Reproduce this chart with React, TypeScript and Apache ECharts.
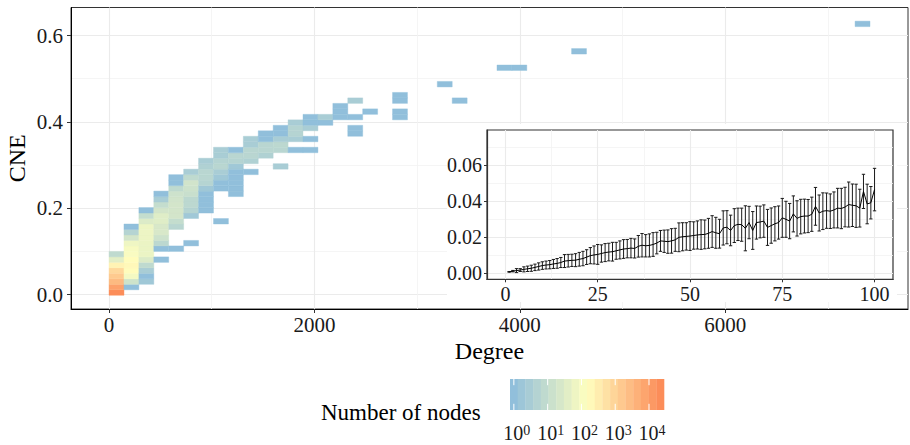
import React, { useEffect, useRef } from 'react';
import * as echarts from 'echarts';

// ---------- main heatmap (binned Degree vs CNE) ----------
const BIN_WIDTH = 145.3; // degree units per bin
const BIN_HEIGHT = 0.0127; // CNE units per bin
const BIN_Y0 = -0.0016;

const binCol = [
  0, 0, 0, 0, 0, 0, 0, 0,
  1, 1, 1, 1, 1, 1, 1, 1, 1, 1, 1, 1,
  2, 2, 2, 2, 2, 2, 2, 2, 2, 2, 2, 2, 2, 2,
  3, 3, 3, 3, 3, 3, 3, 3, 3, 3, 3, 3,
  4, 4, 4, 4, 4, 4, 4, 4, 4, 4, 4,
  5, 5, 5, 5, 5, 5, 5, 5, 5, 5,
  6, 6, 6, 6, 6, 6, 6, 6, 6, 6,
  7, 7, 7, 7, 7, 7, 7, 7, 7,
  8, 8, 8, 8, 8, 8, 8, 8, 8,
  9, 9, 9, 9, 9, 9,
  10, 10, 10, 10, 10,
  11, 11, 11, 11, 11, 11,
  12, 12, 12, 12, 12,
  13, 13, 13, 13, 13,
  14, 14,
  15, 15, 15,
  16, 16, 16, 16,
  17,
  19, 19, 19, 19,
  22, 23, 26, 27, 31, 50,
];
const binRow = [
  0, 1, 2, 3, 4, 5, 6, 7,
  1, 2, 3, 4, 5, 6, 7, 8, 9, 10, 11, 12,
  2, 3, 4, 5, 6, 7, 8, 9, 10, 11, 12, 13, 14, 15,
  6, 8, 9, 10, 11, 12, 13, 14, 15, 16, 17, 18,
  8, 12, 13, 14, 15, 16, 17, 18, 19, 20, 21,
  9, 14, 15, 16, 17, 18, 19, 20, 21, 22,
  15, 16, 17, 18, 19, 20, 21, 22, 23, 24,
  13, 19, 20, 21, 22, 23, 24, 25, 26,
  18, 19, 20, 21, 22, 23, 24, 25, 26,
  22, 24, 25, 26, 27, 28,
  25, 26, 27, 28, 29,
  23, 26, 27, 28, 29, 30,
  26, 28, 29, 30, 31,
  26, 28, 30, 31, 32,
  31, 32,
  32, 33, 34,
  29, 30, 32, 35,
  33,
  32, 33, 35, 36,
  38, 35, 41, 41, 44, 49,
];
const binCount = [
  21000, 9000, 3000, 1500, 800, 250, 40, 8,
  1, 16, 90, 170, 200, 170, 110, 100, 70, 20, 5, 1,
  2, 1, 3, 8, 30, 60, 60, 60, 65, 65, 65, 30, 10, 1,
  1, 1, 7, 15, 25, 25, 35, 35, 20, 10, 3, 1,
  1, 6, 10, 20, 20, 20, 18, 15, 8, 1, 1,
  1, 2, 5, 7, 7, 12, 15, 18, 8, 3,
  1, 1, 1, 1, 2, 5, 6, 6, 4, 3,
  1, 1, 1, 2, 3, 6, 5, 3, 3,
  1, 1, 1, 1, 1, 2, 5, 6, 1,
  1, 4, 6, 6, 3, 3,
  4, 6, 6, 1, 1,
  3, 6, 7, 3, 1, 1,
  1, 3, 5, 5, 3,
  1, 1, 3, 1, 1,
  1, 3,
  1, 1, 1,
  1, 1, 1, 3,
  1,
  1, 1, 1, 1,
  1, 1, 1, 1, 1, 1,
];

const mainXTicks = [0, 2000, 4000, 6000];
const mainXMinor = [1000, 3000, 5000, 7000];
const mainYTicks = [0, 0.2, 0.4, 0.6];
const mainYMinor = [0.1, 0.3, 0.5];

// ---------- inset (rank 1..100, mean CNE with error bars) ----------
const insetMean = [
  0.0008, 0.0012, 0.0015, 0.0018, 0.0022, 0.0025, 0.0028, 0.0033, 0.0038, 0.0043,
  0.0046, 0.0048, 0.0052, 0.0055, 0.0060, 0.0068, 0.0070, 0.0072, 0.0073, 0.0078,
  0.0082, 0.0090, 0.0098, 0.0102, 0.0105, 0.0110, 0.0115, 0.0118, 0.0120, 0.0125,
  0.0130, 0.0135, 0.0137, 0.0140, 0.0138, 0.0150, 0.0156, 0.0153, 0.0155, 0.0160,
  0.0168, 0.0180, 0.0178, 0.0176, 0.0180, 0.0186, 0.0200, 0.0203, 0.0205, 0.0207,
  0.0210, 0.0213, 0.0215, 0.0216, 0.0222, 0.0232, 0.0225, 0.0220, 0.0252, 0.0256,
  0.0238, 0.0265, 0.0272, 0.0270, 0.0250, 0.0282, 0.0238, 0.0282, 0.0285, 0.0290,
  0.0255, 0.0265, 0.0275, 0.0282, 0.0308, 0.0300, 0.0290, 0.0330, 0.0305, 0.0315,
  0.0318, 0.0318, 0.0328, 0.0372, 0.0335, 0.0345, 0.0348, 0.0345, 0.0352, 0.0362,
  0.0360, 0.0368, 0.0382, 0.0378, 0.0375, 0.0362, 0.0455, 0.0385, 0.0392, 0.0465,
];
const insetSd = [
  0.0002, 0.0004, 0.0011, 0.0008, 0.0014, 0.0015, 0.0017, 0.0018, 0.0020, 0.0021,
  0.0022, 0.0023, 0.0025, 0.0027, 0.0028, 0.0036, 0.0035, 0.0034, 0.0036, 0.0038,
  0.0040, 0.0041, 0.0045, 0.0050, 0.0055, 0.0048, 0.0050, 0.0049, 0.0052, 0.0047,
  0.0050, 0.0052, 0.0051, 0.0054, 0.0053, 0.0060, 0.0065, 0.0062, 0.0064, 0.0066,
  0.0060, 0.0058, 0.0062, 0.0065, 0.0068, 0.0064, 0.0080, 0.0078, 0.0076, 0.0080,
  0.0076, 0.0078, 0.0082, 0.0080, 0.0083, 0.0088, 0.0086, 0.0080, 0.0095, 0.0092,
  0.0085, 0.0094, 0.0090, 0.0092, 0.0125, 0.0090, 0.0105, 0.0092, 0.0088, 0.0090,
  0.0100, 0.0098, 0.0095, 0.0092, 0.0108, 0.0100, 0.0098, 0.0100, 0.0098, 0.0096,
  0.0094, 0.0092, 0.0095, 0.0105, 0.0100, 0.0102, 0.0098, 0.0096, 0.0100, 0.0110,
  0.0112, 0.0110, 0.0125, 0.0118, 0.0120, 0.0105, 0.0095, 0.0110, 0.0090, 0.0118,
];
const insetXTicks = [0, 25, 50, 75, 100];
const insetXMinor = [12.5, 37.5, 62.5, 87.5];
const insetYTicks = [0, 0.02, 0.04, 0.06];
const insetYMinor = [0.01, 0.03, 0.05, 0.07];

// ---------- colour scale ----------
const FILL_COLORS = ['#91bfdb', '#ffffbf', '#fc8d59'];
const COLOR_MAX_LOG = 4.33;
const legendTicks = [0, 1, 2, 3, 4];

const FONT = '"Liberation Serif", "Times New Roman", Times, serif';
const MAJOR_GRID = '#ebebeb';
const MINOR_GRID = '#f3f3f3';

function minorAxis(gridIndex: number, min: number, max: number, values: number[], z: number) {
  return {
    type: 'value',
    gridIndex,
    min,
    max,
    z,
    axisLine: { show: false },
    axisTick: { show: false, customValues: values },
    axisLabel: { show: false, customValues: values },
    splitLine: { show: true, lineStyle: { color: MINOR_GRID, width: 0.8 } },
  };
}

export default function App() {
  const ref = useRef<HTMLDivElement>(null);

  useEffect(() => {
    const chart = echarts.init(ref.current!, null, { renderer: 'svg' });

    const n = Math.min(binCol.length, binRow.length, binCount.length);
    const heatData: number[][] = [];
    for (let i = 0; i < n; i++) {
      heatData.push([binCol[i] * BIN_WIDTH, BIN_Y0 + binRow[i] * BIN_HEIGHT, Math.log10(binCount[i])]);
    }
    const lineData = insetMean.map((m, i) => [i + 1, m]);
    const errData = insetMean.map((m, i) => [i + 1, m - insetSd[i], m + insetSd[i]]);

    // legend colour bar
    const barX = 510, barY = 379, barW = 154, barH = 31, nbin = 20;
    const step = barW / nbin;
    const legendEls: any[] = [];
    for (let i = 0; i < nbin; i++) {
      legendEls.push({
        type: 'rect',
        shape: { x: barX + i * step, y: barY, width: step + 0.3, height: barH },
        style: { fill: echarts.color.lerp(i / (nbin - 1), FILL_COLORS) },
        z: 20,
      });
    }
    legendTicks.forEach((v) => {
      const px = barX + step / 2 + (v / COLOR_MAX_LOG) * (barW - step);
      legendEls.push({
        type: 'line',
        shape: { x1: px, y1: barY, x2: px, y2: barY + barH / 5 },
        style: { stroke: '#ffffff', lineWidth: 1 },
        z: 21,
      });
      legendEls.push({
        type: 'line',
        shape: { x1: px, y1: barY + barH - barH / 5, x2: px, y2: barY + barH },
        style: { stroke: '#ffffff', lineWidth: 1 },
        z: 21,
      });
      legendEls.push({
        type: 'text',
        x: px + 3,
        y: 433,
        style: {
          text: '{b|10}{s|' + v + '}',
          rich: {
            b: { fontSize: 20, fontFamily: FONT, fill: '#1a1a1a', color: '#1a1a1a', verticalAlign: 'bottom' },
            s: { fontSize: 14, fontFamily: FONT, fill: '#1a1a1a', color: '#1a1a1a', verticalAlign: 'top' },
          },
          fontSize: 20,
          fontFamily: FONT,
          fill: '#1a1a1a',
          align: 'center',
          verticalAlign: 'middle',
          textAlign: 'center',
          textVerticalAlign: 'middle',
        },
        z: 21,
      });
    });
    legendEls.push({
      type: 'text',
      x: 321,
      y: 412,
      style: {
        text: 'Number of nodes',
        fontSize: 23,
        fontFamily: FONT,
        fill: '#000',
        align: 'left',
        verticalAlign: 'middle',
        textAlign: 'left',
        textVerticalAlign: 'middle',
      },
      z: 21,
    });

    const option: any = {
      animation: false,
      backgroundColor: '#ffffff',
      grid: [
        {
          left: 71, top: 7.5, right: 2, bottom: 136,
          outerBoundsMode: 'none', containLabel: false,
          show: true, borderColor: '#333', borderWidth: 1, backgroundColor: 'transparent',
        },
        {
          left: 487, top: 130, right: 17, bottom: 165.7,
          outerBoundsMode: 'none', containLabel: false,
          show: true, borderColor: '#333', borderWidth: 1.2, backgroundColor: '#ffffff', z: 9,
        },
      ],
      visualMap: {
        type: 'continuous',
        show: false,
        seriesIndex: 0,
        dimension: 2,
        min: 0,
        max: COLOR_MAX_LOG,
        inRange: { color: FILL_COLORS },
      },
      xAxis: [
        {
          type: 'value', gridIndex: 0, min: -370.5, max: 7780.5,
          axisLine: { show: true, onZero: false, lineStyle: { color: '#000', width: 1 } },
          axisTick: { show: true, customValues: mainXTicks, length: 4, lineStyle: { color: '#333' } },
          axisLabel: {
            customValues: mainXTicks, fontSize: 21, lineHeight: 18, fontFamily: FONT, color: '#1a1a1a', margin: 7,
            formatter: (v: number) => String(v),
          },
          splitLine: { show: true, lineStyle: { color: MAJOR_GRID, width: 1.1 } },
          name: 'Degree', nameLocation: 'middle', nameGap: 31, nameMoveOverlap: false,
          nameTextStyle: { fontSize: 24, lineHeight: 22, fontFamily: FONT, color: '#000' },
        },
        minorAxis(0, -370.5, 7780.5, mainXMinor, 0),
        {
          type: 'value', gridIndex: 1, min: -5, max: 105, z: 10,
          axisLine: { show: true, onZero: false, lineStyle: { color: '#333', width: 1.2 } },
          axisTick: { show: true, customValues: insetXTicks, length: 3, lineStyle: { color: '#333' } },
          axisLabel: {
            customValues: insetXTicks, fontSize: 20, fontFamily: FONT, color: '#1a1a1a', margin: 5,
            formatter: (v: number) => String(v),
          },
          splitLine: { show: true, lineStyle: { color: MAJOR_GRID, width: 1.1 } },
        },
        minorAxis(1, -5, 105, insetXMinor, 10),
      ],
      yAxis: [
        {
          type: 'value', gridIndex: 0, min: -0.0334, max: 0.665,
          axisLine: { show: true, onZero: false, lineStyle: { color: '#000', width: 1 } },
          axisTick: { show: true, customValues: mainYTicks, length: 4, lineStyle: { color: '#333' } },
          axisLabel: {
            customValues: mainYTicks, fontSize: 21, fontFamily: FONT, color: '#1a1a1a', margin: 8,
            formatter: (v: number) => v.toFixed(1),
          },
          splitLine: { show: true, lineStyle: { color: MAJOR_GRID, width: 1.1 } },
          name: 'CNE', nameLocation: 'middle', nameGap: 42, nameMoveOverlap: false,
          nameTextStyle: { fontSize: 24, fontFamily: FONT, color: '#000' },
        },
        minorAxis(0, -0.0334, 0.665, mainYMinor, 0),
        {
          type: 'value', gridIndex: 1, min: -0.00333, max: 0.0796, z: 10,
          axisLine: { show: true, onZero: false, lineStyle: { color: '#333', width: 1.2 } },
          axisTick: { show: true, customValues: insetYTicks, length: 3, lineStyle: { color: '#333' } },
          axisLabel: {
            customValues: insetYTicks, fontSize: 20, fontFamily: FONT, color: '#1a1a1a', margin: 5,
            formatter: (v: number) => v.toFixed(2),
          },
          splitLine: { show: true, lineStyle: { color: MAJOR_GRID, width: 1.1 } },
        },
        minorAxis(1, -0.00333, 0.0796, insetYMinor, 10),
      ],
      graphic: [
        {
          type: 'rect',
          shape: { x: 447, y: 124, width: 450, height: 178 },
          style: { fill: '#ffffff' },
          z: 8,
        },
        ...legendEls,
      ],
      series: [
        {
          type: 'custom',
          xAxisIndex: 0,
          yAxisIndex: 0,
          z: 2,
          data: heatData,
          encode: { x: 0, y: 1 },
          renderItem: (params: any, api: any) => {
            const x = api.value(0);
            const y = api.value(1);
            const p0 = api.coord([x, y + BIN_HEIGHT]);
            const p1 = api.coord([x + BIN_WIDTH, y]);
            const c = api.visual('color');
            return {
              type: 'rect',
              shape: { x: p0[0], y: p0[1], width: p1[0] - p0[0], height: p1[1] - p0[1] },
              style: { fill: c, stroke: c, lineWidth: 0.4 },
            };
          },
        },
        {
          type: 'custom',
          xAxisIndex: 2,
          yAxisIndex: 2,
          z: 11,
          data: errData,
          encode: { x: 0, y: [1, 2] },
          renderItem: (params: any, api: any) => {
            const x = api.value(0);
            const lo = api.coord([x, api.value(1)]);
            const hi = api.coord([x, api.value(2)]);
            const l = api.coord([x - 0.45, api.value(2)]);
            const r = api.coord([x + 0.45, api.value(2)]);
            const half = (r[0] - l[0]) / 2;
            const st = { stroke: '#1a1a1a', lineWidth: 1 };
            return {
              type: 'group',
              children: [
                { type: 'line', shape: { x1: lo[0], y1: lo[1], x2: hi[0], y2: hi[1] }, style: st },
                { type: 'line', shape: { x1: hi[0] - half, y1: hi[1], x2: hi[0] + half, y2: hi[1] }, style: st },
                { type: 'line', shape: { x1: lo[0] - half, y1: lo[1], x2: lo[0] + half, y2: lo[1] }, style: st },
              ],
            };
          },
        },
        {
          type: 'line',
          xAxisIndex: 2,
          yAxisIndex: 2,
          z: 12,
          data: lineData,
          showSymbol: false,
          symbol: 'none',
          lineStyle: { color: '#000000', width: 1 },
        },
      ],
    };

    chart.setOption(option);
    return () => chart.dispose();
  }, []);

  return (
    <div
      ref={ref}
      style={{ position: 'fixed', left: 0, top: 0, width: 910, height: 445, background: '#fff' }}
    />
  );
}
